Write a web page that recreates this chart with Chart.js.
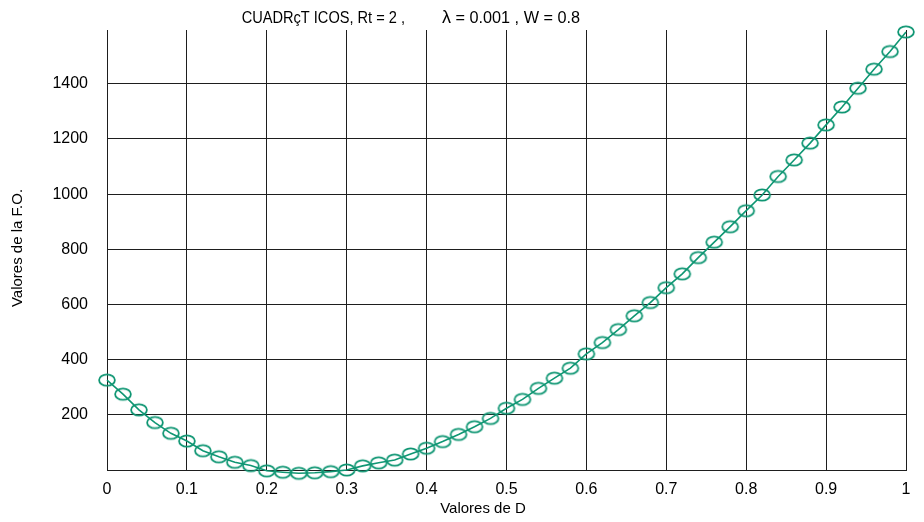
<!DOCTYPE html>
<html>
<head>
<meta charset="utf-8">
<script src="https://cdn.jsdelivr.net/npm/chart.js@4"></script>
<style>
html,body{margin:0;padding:0;background:#fff;}
#wrap{position:relative;width:924px;height:522px;}
</style>
</head>
<body>
<div id="wrap"><canvas id="c" width="924" height="522"></canvas></div>
<script>
const dValues = [0,0.02,0.04,0.06,0.08,0.10,0.12,0.14,0.16,0.18,0.20,0.22,0.24,0.26,0.28,0.30,0.32,0.34,0.36,0.38,0.40,0.42,0.44,0.46,0.48,0.50,0.52,0.54,0.56,0.58,0.60,0.62,0.64,0.66,0.68,0.70,0.72,0.74,0.76,0.78,0.80,0.82,0.84,0.86,0.88,0.90,0.92,0.94,0.96,0.98,1.00];
const foValues = [326,275,218,172,133,105,70,48,28,16,-3,-8,-12,-10,-6,0,15,26,36,58,79,103,129,157,187,224,256,296,333,369,421,462,509,559,607,661,711,770,826,882,940,997,1064,1124,1185,1251,1316,1384,1453,1517,1588];
const xTickLabels = ['0','0.1','0.2','0.3','0.4','0.5','0.6','0.7','0.8','0.9','1'];
const yTickValues = [0,200,400,600,800,1000,1200,1400];
const yTickLabels = ['','200','400','600','800','1000','1200','1400'];
const titleParts = ['CUADRçT ICOS, Rt = 2 ,', 'λ', '= 0.001 , W = 0.8'];
const xTitle = 'Valores de D';
const yTitle = 'Valores de la F.O.';

const green = '#0f9673';
const FONT = '"Liberation Sans", Arial, sans-serif';

// ellipse marker
const mk = document.createElement('canvas');
mk.width = 22; mk.height = 16;
(function(){
  const g = mk.getContext('2d');
  g.strokeStyle = green; g.lineWidth = 1.8;
  g.beginPath(); g.ellipse(11, 8, 7.9, 5.7, 0, 0, Math.PI*2); g.stroke();
})();

// [left, right] extents of each title part (null right = natural width)
const titleSpans = [[241.7, 405], [442, null], [455.5, 580]];

function yIndex(v) {
  for (let i = 0; i < yTickValues.length; i++) {
    if (Math.abs(v - yTickValues[i]) < 0.5) return i;
  }
  return -1;
}

const textPlugin = {
  id: 'texts',
  afterDraw(chart) {
    const ctx = chart.ctx;
    ctx.save();
    ctx.fillStyle = '#000';
    ctx.textBaseline = 'alphabetic';
    ctx.textAlign = 'left';
    titleParts.forEach((t, i) => {
      ctx.save();
      ctx.font = (t === 'λ' ? '18px ' : '17px ') + FONT;
      const w = ctx.measureText(t).width;
      const span = titleSpans[i];
      ctx.translate(span[0], 22.5);
      if (span[1] !== null) ctx.scale((span[1] - span[0]) / w, 1);
      ctx.fillText(t, 0, 0);
      ctx.restore();
    });
    ctx.textBaseline = 'middle';
    ctx.font = '15px ' + FONT;
    ctx.textAlign = 'center';
    ctx.fillText(xTitle, 483, 509);
    ctx.translate(18, 248);
    ctx.rotate(-Math.PI/2);
    ctx.fillText(yTitle, 0, 0);
    ctx.restore();
  }
};

const points = dValues.map((d, i) => ({x: d, y: foValues[i]}));

new Chart(document.getElementById('c'), {
  type: 'line',
  data: {
    datasets: [{
      data: points,
      borderColor: green,
      borderWidth: 1.6,
      pointStyle: mk,
      pointRadius: 8,
      pointHoverRadius: 8,
      tension: 0,
      fill: false,
      clip: false
    }]
  },
  options: {
    responsive: false,
    animation: false,
    events: [],
    layout: { padding: { top: 30, right: 18, left: 0, bottom: 0 } },
    plugins: { legend: { display: false }, tooltip: { enabled: false }, title: { display: false } },
    scales: {
      x: {
        type: 'linear',
        min: 0, max: 1,
        afterFit(s) { s.height = 52; },
        ticks: {
          stepSize: 0.1,
          color: '#000',
          font: { family: FONT, size: 16 },
          padding: 10,
          maxRotation: 0,
          callback: (v) => { const i = Math.round(v * 10); return xTickLabels[i] !== undefined ? xTickLabels[i] : ''; }
        },
        grid: { color: '#1e1e1e', lineWidth: 1, drawTicks: false },
        border: { display: true, color: '#1e1e1e', width: 1 }
      },
      y: {
        type: 'linear',
        min: 0, max: 1595,
        afterFit(s) { s.width = 107; },
        afterBuildTicks(s) { s.ticks = yTickValues.map(v => ({ value: v })); },
        ticks: {
          color: '#000',
          font: { family: FONT, size: 16 },
          padding: 19,
          callback: (v) => { const i = yIndex(v); return i >= 0 ? yTickLabels[i] : ''; }
        },
        grid: { color: '#1e1e1e', lineWidth: 1, drawTicks: false },
        border: { display: true, color: '#1e1e1e', width: 1 }
      }
    }
  },
  plugins: [textPlugin]
});
</script>
</body>
</html>
